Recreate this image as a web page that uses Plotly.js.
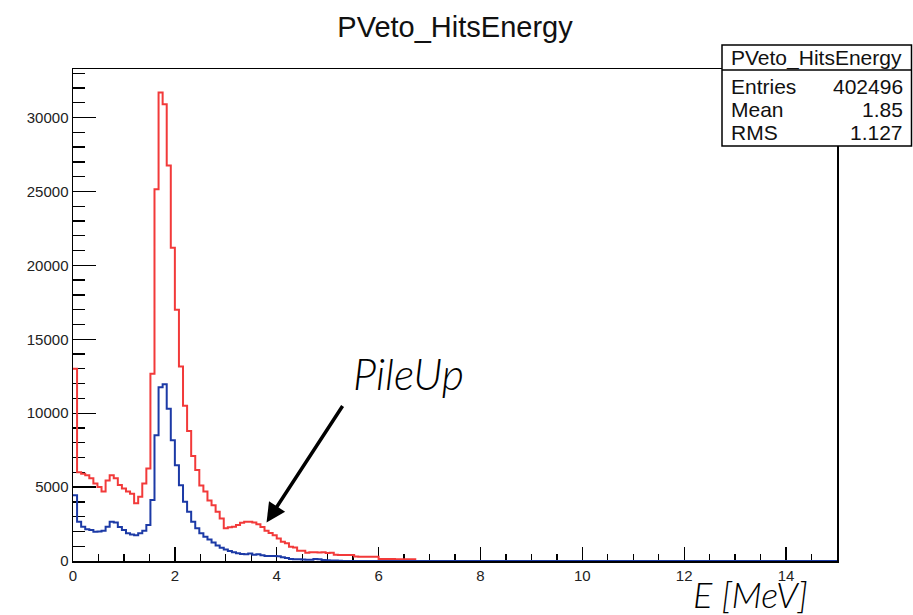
<!DOCTYPE html>
<html>
<head>
<meta charset="utf-8">
<script src="https://cdn.plot.ly/plotly-3.0.1.min.js"></script>
<style>html,body{margin:0;padding:0;background:#fff;}#chart{width:913px;height:615px;}</style>
</head>
<body>
<div id="chart"></div>
<script>
// Histogram binning (MeV)
const binWidth = 0.08;
const xMax = 15;

// Red histogram: counts per bin, starting at E = 0
const redCounts = [
  13000, 6000, 5900, 5800, 5600, 5250, 5000, 4700, 5450, 5800,
  5600, 5150, 4900, 4700, 4550, 3900, 4350, 5250, 6250, 12670,
  25150, 31700, 30900, 26750, 21200, 17000, 13150, 10500, 8800, 7100,
  6150, 5100, 4700, 4100, 3780, 3330, 2880, 2210, 2280, 2320,
  2430, 2590, 2650, 2650, 2600, 2480, 2300, 2050, 1900, 1750,
  1530, 1300, 1200, 970, 920, 700, 690, 560, 590, 590,
  580, 590, 540, 560, 420, 405, 400, 410, 400, 300,
  290, 290, 280, 290, 280, 140, 130, 135, 130, 120,
  125, 115, 110, 110, 0
];

// Blue histogram: counts per bin, starting at E = 0
const blueCounts = [
  4450, 2650, 2320, 2150, 2100, 1980, 2000, 2050, 2320, 2650,
  2600, 2300, 2100, 1870, 1800, 1750, 1870, 2050, 2430, 4120,
  8500, 11750, 11950, 10300, 8170, 6480, 5130, 4000, 3330, 2650,
  2210, 1870, 1640, 1450, 1250, 1050, 900, 780, 680, 600,
  530, 470, 450, 500, 420, 450, 390, 340, 340, 330,
  320, 250, 200, 130, 120, 110, 100, 90, 80, 130,
  120, 60, 50, 40, 30, 20, 0
];

const histTitle = 'PVeto_HitsEnergy';
const statsLabels = ['Entries', 'Mean', 'RMS'];
const statsValues = ['402496', '1.85', '1.127'];
const xAxisLabel = 'E [MeV]';
const annotationText = 'PileUp';

function stepTrace(counts, color) {
  const x = [], y = [];
  counts.forEach((c, i) => { x.push(i * binWidth); y.push(c); });
  x.push(counts.length * binWidth); y.push(0);
  x.push(xMax); y.push(0);
  return {
    type: 'scatter', mode: 'lines', x: x, y: y,
    line: {shape: 'hv', color: color, width: 2},
    hoverinfo: 'skip', showlegend: false
  };
}

// plot area geometry in pixels
const L = 73, R = 837, T = 69, B = 561;
const W = 913, H = 615;
const px = v => (v - L) / (R - L);
const py = v => (B - v) / (B - T);

const ymaxCount = Math.max(...redCounts) * 1.05;

const shapes = [
  {type: 'rect', xref: 'paper', yref: 'paper', x0: px(722), x1: px(911.5), y0: py(146), y1: py(45),
   line: {color: '#000', width: 1.5}, fillcolor: '#fff', layer: 'above'},
  {type: 'line', xref: 'paper', yref: 'paper', x0: px(722), x1: px(911.5), y0: py(70), y1: py(70),
   line: {color: '#000', width: 1.5}, layer: 'above'}
];

const statFont = {family: 'Liberation Sans, Arial, sans-serif', size: 21, color: '#111'};
const annotations = [
  {xref: 'paper', yref: 'paper', x: px(816.5), y: py(58), text: histTitle, showarrow: false,
   xanchor: 'center', yanchor: 'middle', font: statFont},
];
const rowY = [86, 109, 132];
statsLabels.forEach((lab, i) => {
  annotations.push({xref: 'paper', yref: 'paper', x: px(729), y: py(rowY[i]), text: lab, showarrow: false,
    xanchor: 'left', yanchor: 'middle', font: statFont});
  annotations.push({xref: 'paper', yref: 'paper', x: px(905), y: py(rowY[i]), text: statsValues[i], showarrow: false,
    xanchor: 'right', yanchor: 'middle', font: statFont});
});
annotations.push({xref: 'paper', yref: 'paper', x: px(408), y: py(373), text: annotationText, showarrow: false,
  xanchor: 'center', yanchor: 'middle',
  font: {family: 'Lato, Open Sans, sans-serif', size: 43, style: 'italic', weight: 300, color: '#000'}});
annotations.push({xref: 'x', yref: 'y', x: 3.8, y: 2600, ax: 77, ay: -118, text: '', showarrow: true,
  arrowhead: 2, arrowsize: 1.1, arrowwidth: 3.5, arrowcolor: '#000', standoff: 0});
annotations.push({xref: 'paper', yref: 'paper', x: px(750), y: py(594), text: xAxisLabel, showarrow: false,
  xanchor: 'center', yanchor: 'middle',
  font: {family: 'Lato, Open Sans, sans-serif', size: 36, style: 'italic', weight: 300, color: '#000'}});

const tickFont = {family: 'Liberation Sans, Arial, sans-serif', size: 15, color: '#222'};

const layout = {
  width: W, height: H,
  margin: {l: L, r: W - R, t: T, b: H - B, pad: 0},
  paper_bgcolor: '#fff', plot_bgcolor: '#fff',
  title: {text: histTitle, x: 0.5, xref: 'paper', xanchor: 'center', y: 1 - 27 / H, yref: 'container', yanchor: 'middle',
    font: {family: 'Liberation Sans, Arial, sans-serif', size: 29, color: '#111'}},
  xaxis: {range: [0, xMax], dtick: 2, tick0: 0, ticks: 'inside', ticklen: 14, tickwidth: 1.3, tickcolor: '#000',
    minor: {dtick: 0.5, ticks: 'inside', ticklen: 7, tickwidth: 1.3, tickcolor: '#000'},
    showline: true, linecolor: '#000', linewidth: 1.5, mirror: true, showgrid: false, zeroline: false,
    tickfont: tickFont, layer: 'below traces', fixedrange: true},
  yaxis: {range: [0, ymaxCount], dtick: 5000, tick0: 0, tickformat: 'd', ticks: 'inside', ticklen: 23, tickwidth: 1.3, tickcolor: '#000',
    minor: {dtick: 1000, ticks: 'inside', ticklen: 12, tickwidth: 1.3, tickcolor: '#000'},
    showline: true, linecolor: '#000', linewidth: 1.5, mirror: true, showgrid: false, zeroline: false,
    tickfont: tickFont, layer: 'below traces', fixedrange: true},
  shapes: shapes,
  annotations: annotations,
  showlegend: false
};

Plotly.newPlot('chart', [stepTrace(redCounts, '#f23a3a'), stepTrace(blueCounts, '#1c3aa6')], layout,
  {displayModeBar: false, staticPlot: true});
</script>
</body>
</html>
